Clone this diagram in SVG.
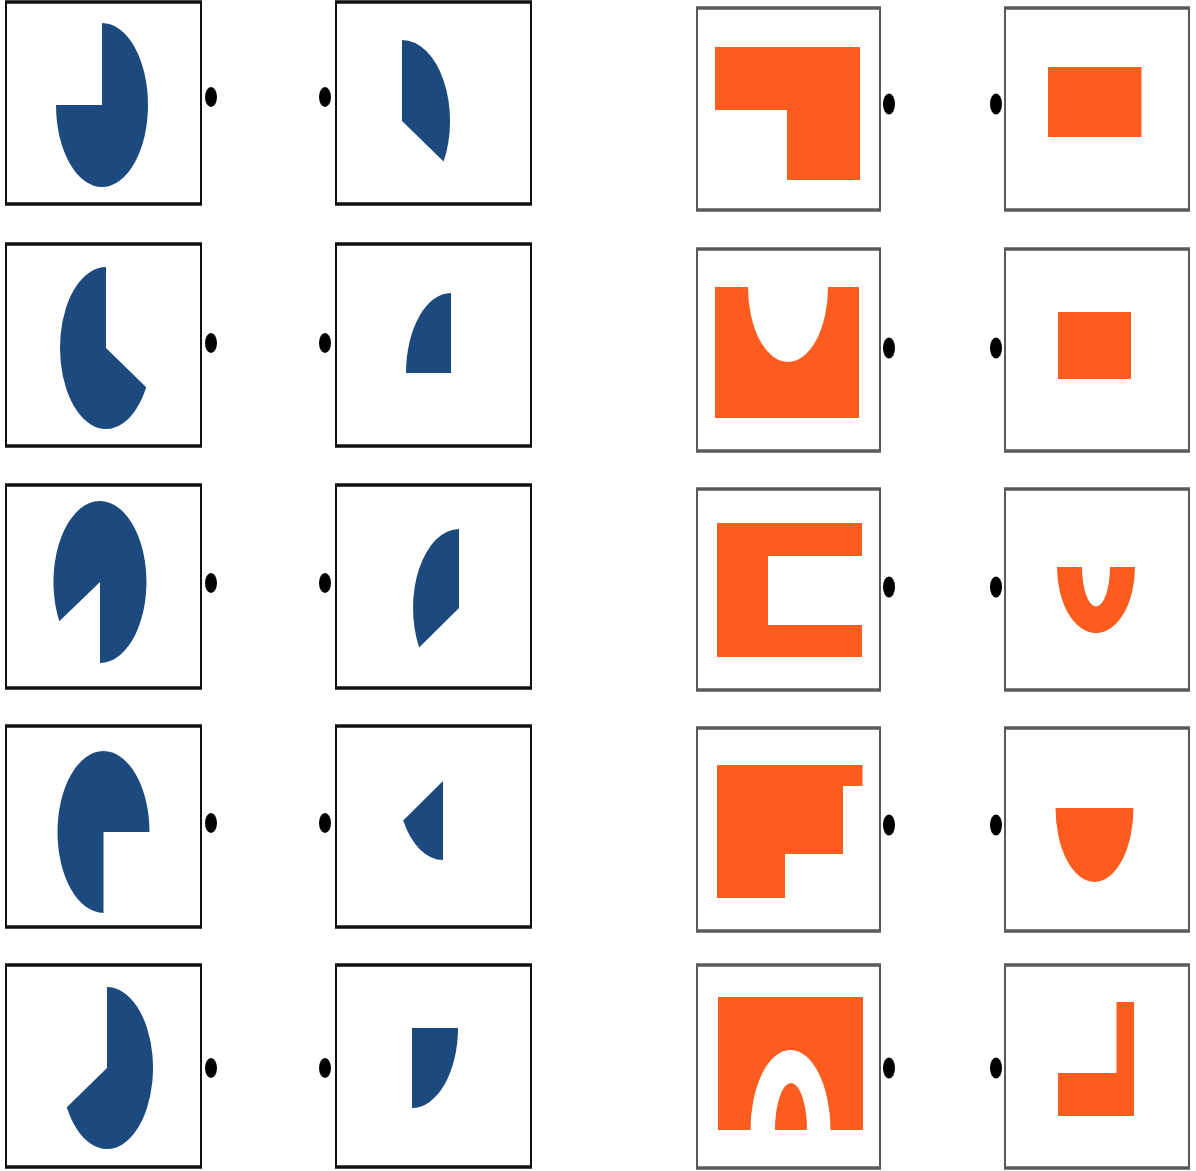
<svg xmlns="http://www.w3.org/2000/svg" width="1196" height="1171" viewBox="0 0 1196 1171">
<style>
.bl{fill:#fff;stroke:#111;stroke-width:2}
.blh{stroke:#111;stroke-width:3.5}
.br{fill:#fff;stroke:#5a5a5a;stroke-width:2}
.brh{stroke:#5a5a5a;stroke-width:3.5}
.blue{fill:#1d4a7e}
.org{fill:#fd5c1f}
.wht{fill:#fff}
.dot{fill:#000}
</style>
<rect width="1196" height="1171" fill="#fff"/>
<g id="connectors"/>
<!-- Row 1 -->
<g id="a1"><rect class="bl" x="6" y="2" width="195" height="202"/><line class="blh" x1="5" y1="2" x2="202" y2="2"/><line class="blh" x1="5" y1="204" x2="202" y2="204"/>
<path class="blue" d="M102,105 L102,23 A46,82 0 1 1 56,105 Z"/><ellipse class="dot" cx="211" cy="97" rx="6" ry="10"/></g>
<g id="b1"><rect class="bl" x="336" y="2" width="195" height="202"/><line class="blh" x1="335" y1="2" x2="532" y2="2"/><line class="blh" x1="335" y1="204" x2="532" y2="204"/>
<path class="blue" d="M402,121 L402,40 A48,81 0 0 1 443.6,161.5 Z"/><ellipse class="dot" cx="325" cy="97" rx="6" ry="10"/></g>
<g id="c1"><rect class="br" x="697" y="8" width="183" height="202"/><line class="brh" x1="696" y1="8" x2="881" y2="8"/><line class="brh" x1="696" y1="210" x2="881" y2="210"/>
<path class="org" d="M715,47 L860,47 L860,180 L787,180 L787,110 L715,110 Z"/><ellipse class="dot" cx="889" cy="104" rx="6" ry="10.5"/></g>
<g id="d1"><rect class="br" x="1005" y="8" width="184" height="202"/><line class="brh" x1="1004" y1="8" x2="1190" y2="8"/><line class="brh" x1="1004" y1="210" x2="1190" y2="210"/>
<rect class="org" x="1048" y="67" width="93.5" height="70"/><ellipse class="dot" cx="996" cy="104" rx="6" ry="10.5"/></g>
<!-- Row 2 -->
<g id="a2"><rect class="bl" x="6" y="244" width="195" height="202"/><line class="blh" x1="5" y1="244" x2="202" y2="244"/><line class="blh" x1="5" y1="446" x2="202" y2="446"/>
<path class="blue" d="M106,348 L146.2,387.3 A46,81 0 1 1 106,267 Z"/><ellipse class="dot" cx="211" cy="343" rx="6" ry="10"/></g>
<g id="b2"><rect class="bl" x="336" y="244" width="195" height="202"/><line class="blh" x1="335" y1="244" x2="532" y2="244"/><line class="blh" x1="335" y1="446" x2="532" y2="446"/>
<path class="blue" d="M451,373 L406,373 A45,80 0 0 1 451,293 Z"/><ellipse class="dot" cx="325" cy="343" rx="6" ry="10"/></g>
<g id="c2"><rect class="br" x="697" y="249" width="183" height="202"/><line class="brh" x1="696" y1="249" x2="881" y2="249"/><line class="brh" x1="696" y1="451" x2="881" y2="451"/>
<path class="org" d="M715,287 L748,287 A40,75 0 0 0 828,287 L859,287 L859,418 L715,418 Z"/><ellipse class="dot" cx="889" cy="348" rx="6" ry="10.5"/></g>
<g id="d2"><rect class="br" x="1005" y="249" width="184" height="202"/><line class="brh" x1="1004" y1="249" x2="1190" y2="249"/><line class="brh" x1="1004" y1="451" x2="1190" y2="451"/>
<rect class="org" x="1058" y="312" width="73" height="67"/><ellipse class="dot" cx="996" cy="348" rx="6" ry="10.5"/></g>
<!-- Row 3 -->
<g id="a3"><rect class="bl" x="6" y="485" width="195" height="203"/><line class="blh" x1="5" y1="485" x2="202" y2="485"/><line class="blh" x1="5" y1="688" x2="202" y2="688"/>
<path class="blue" d="M100,582 L59.3,621.3 A46.5,81 0 1 1 100,663 Z"/><ellipse class="dot" cx="211" cy="583" rx="6" ry="10"/></g>
<g id="b3"><rect class="bl" x="336" y="485" width="195" height="203"/><line class="blh" x1="335" y1="485" x2="532" y2="485"/><line class="blh" x1="335" y1="688" x2="532" y2="688"/>
<path class="blue" d="M459,608 L419.2,647.5 A46,79 0 0 1 459,529 Z"/><ellipse class="dot" cx="325" cy="583" rx="6" ry="10"/></g>
<g id="c3"><rect class="br" x="697" y="489" width="183" height="201"/><line class="brh" x1="696" y1="489" x2="881" y2="489"/><line class="brh" x1="696" y1="690" x2="881" y2="690"/>
<path class="org" d="M717,523 L862,523 L862,556 L768,556 L768,625 L862,625 L862,657 L717,657 Z"/><ellipse class="dot" cx="889" cy="587" rx="6" ry="10.5"/></g>
<g id="d3"><rect class="br" x="1005" y="489" width="184" height="201"/><line class="brh" x1="1004" y1="489" x2="1190" y2="489"/><line class="brh" x1="1004" y1="690" x2="1190" y2="690"/>
<path class="org" d="M1057,567 A39,66 0 0 0 1135,567 L1110,567 A14,39.5 0 0 1 1082,567 Z"/><ellipse class="dot" cx="996" cy="587" rx="6" ry="10.5"/></g>
<!-- Row 4 -->
<g id="a4"><rect class="bl" x="6" y="726" width="195" height="201"/><line class="blh" x1="5" y1="726" x2="202" y2="726"/><line class="blh" x1="5" y1="927" x2="202" y2="927"/>
<path class="blue" d="M103.5,832 L103.5,913 A46,81 0 1 1 149.5,832 Z"/><ellipse class="dot" cx="211" cy="823" rx="6" ry="10"/></g>
<g id="b4"><rect class="bl" x="336" y="726" width="195" height="201"/><line class="blh" x1="335" y1="726" x2="532" y2="726"/><line class="blh" x1="335" y1="927" x2="532" y2="927"/>
<path class="blue" d="M443,781 L443,860 A46,79 0 0 1 403.2,820.5 Z"/><ellipse class="dot" cx="325" cy="823" rx="6" ry="10"/></g>
<g id="c4"><rect class="br" x="697" y="728" width="183" height="203"/><line class="brh" x1="696" y1="728" x2="881" y2="728"/><line class="brh" x1="696" y1="931" x2="881" y2="931"/>
<path class="org" d="M717,765 L862.5,765 L862.5,786 L843,786 L843,854 L785,854 L785,898 L717,898 Z"/><ellipse class="dot" cx="889" cy="825" rx="6" ry="10.5"/></g>
<g id="d4"><rect class="br" x="1005" y="728" width="184" height="203"/><line class="brh" x1="1004" y1="728" x2="1190" y2="728"/><line class="brh" x1="1004" y1="931" x2="1190" y2="931"/>
<path class="org" d="M1055.5,808 A39,74 0 0 0 1133.5,808 Z"/><ellipse class="dot" cx="996" cy="825" rx="6" ry="10.5"/></g>
<!-- Row 5 -->
<g id="a5"><rect class="bl" x="6" y="965" width="195" height="202"/><line class="blh" x1="5" y1="965" x2="202" y2="965"/><line class="blh" x1="5" y1="1167" x2="202" y2="1167"/>
<path class="blue" d="M107,1068 L107,987 A46,81 0 1 1 66.8,1107.3 Z"/><ellipse class="dot" cx="211" cy="1068" rx="6" ry="10"/></g>
<g id="b5"><rect class="bl" x="336" y="965" width="195" height="202"/><line class="blh" x1="335" y1="965" x2="532" y2="965"/><line class="blh" x1="335" y1="1167" x2="532" y2="1167"/>
<path class="blue" d="M412,1028 L458,1028 A46,80 0 0 1 412,1108 Z"/><ellipse class="dot" cx="325" cy="1068" rx="6" ry="10"/></g>
<g id="c5"><rect class="br" x="697" y="965" width="183" height="203"/><line class="brh" x1="696" y1="965" x2="881" y2="965"/><line class="brh" x1="696" y1="1168" x2="881" y2="1168"/>
<rect class="org" x="718" y="997" width="145" height="133"/><path class="wht" d="M750.5,1130 A40,80 0 0 1 830.5,1130 Z"/><path class="org" d="M775,1130 A16,47 0 0 1 807,1130 Z"/><ellipse class="dot" cx="889" cy="1068" rx="6" ry="10.5"/></g>
<g id="d5"><rect class="br" x="1005" y="965" width="184" height="203"/><line class="brh" x1="1004" y1="965" x2="1190" y2="965"/><line class="brh" x1="1004" y1="1168" x2="1190" y2="1168"/>
<path class="org" d="M1116.5,1002 L1134,1002 L1134,1116 L1058,1116 L1058,1073 L1116.5,1073 Z"/><ellipse class="dot" cx="996" cy="1068" rx="6" ry="10.5"/></g>
</svg>
